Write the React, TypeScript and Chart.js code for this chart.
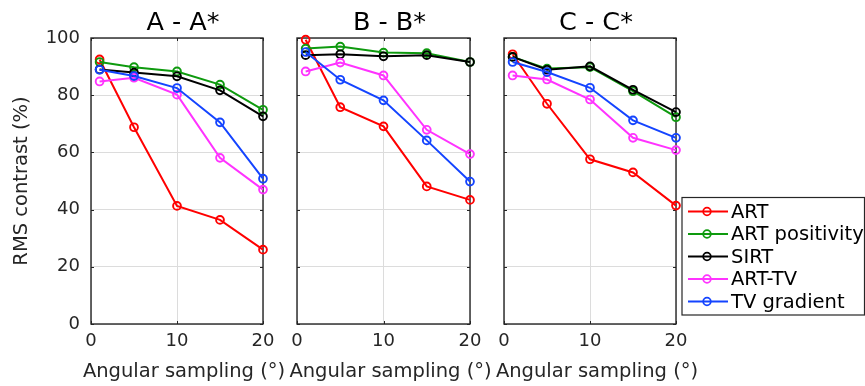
import React, { useEffect, useRef } from 'react';
import { Chart, registerables } from 'chart.js';

Chart.register(...registerables);

// ---------- data ----------
const angles = [1, 5, 10, 15, 20];
const seriesNames = ['ART', 'ART positivity', 'SIRT', 'ART-TV', 'TV gradient'];
const seriesColors = ['#ff0000', '#0e9a0e', '#000000', '#ff33ff', '#1444ff'];
const panelTitles = ['A - A*', 'B - B*', 'C - C*'];
const xTicks = [0, 10, 20];
const yTicks = [0, 20, 40, 60, 80, 100];
const xAxisLabel = 'Angular sampling (°)';
const yAxisLabel = 'RMS contrast (%)';

// Panel A - A*
const artA = [92.5, 68.8, 41.3, 36.4, 26.0];
const artPosA = [91.6, 89.8, 88.3, 83.7, 74.9];
const sirtA = [89.0, 87.9, 86.6, 81.7, 72.6];
const artTvA = [84.8, 86.1, 80.2, 58.1, 47.0];
const tvGradA = [88.9, 86.7, 82.5, 70.5, 50.8];

// Panel B - B*
const artB = [99.4, 75.8, 69.1, 48.1, 43.4];
const artPosB = [96.3, 97.0, 94.9, 94.7, 91.6];
const sirtB = [94.0, 94.3, 93.6, 94.0, 91.6];
const artTvB = [88.3, 91.4, 86.9, 67.9, 59.4];
const tvGradB = [95.1, 85.4, 78.2, 64.2, 49.8];

// Panel C - C*
const artC = [94.3, 77.0, 57.6, 53.0, 41.4];
const artPosC = [93.4, 89.3, 89.8, 81.4, 72.3];
const sirtC = [93.4, 88.9, 90.1, 81.9, 74.1];
const artTvC = [86.9, 85.5, 78.5, 65.1, 60.8];
const tvGradC = [91.6, 88.1, 82.6, 71.2, 65.1];

const panelSeries = [
  [artA, artPosA, sirtA, artTvA, tvGradA],
  [artB, artPosB, sirtB, artTvB, tvGradB],
  [artC, artPosC, sirtC, artTvC, tvGradC],
];

// ---------- layout / style ----------
const W = 865;
const H = 386;
const FONT = '"DejaVu Sans", sans-serif';
const TEXT = '#262626';
const GRID = '#dcdcdc';
const panelLeft = [91, 297, 504];
const panelRight = [263, 470, 676];
const plotTop = 38;
const yAxisWidth = 91;
const xAxisHeight = 62;
const textShift = 6;

const boxPlugin = {
  id: 'matlabBox',
  beforeDatasetsDraw(chart: any) {
    const { ctx, chartArea: a, scales } = chart;
    ctx.save();
    ctx.strokeStyle = TEXT;
    ctx.lineWidth = 1;
    const tl = 3;
    ctx.beginPath();
    for (const v of yTicks) {
      const y = Math.round(scales.y.getPixelForValue(v)) + 0.5;
      ctx.moveTo(a.left, y);
      ctx.lineTo(a.left + tl, y);
      ctx.moveTo(a.right, y);
      ctx.lineTo(a.right - tl, y);
    }
    for (const v of xTicks) {
      const x = Math.round(scales.x.getPixelForValue(v)) + 0.5;
      ctx.moveTo(x, a.bottom);
      ctx.lineTo(x, a.bottom - tl);
      ctx.moveTo(x, a.top);
      ctx.lineTo(x, a.top + tl);
    }
    ctx.stroke();
    ctx.lineWidth = 1.4;
    ctx.strokeRect(a.left, a.top, a.right - a.left, a.bottom - a.top);
    ctx.restore();
  },
  afterDraw(chart: any) {
    // panel title and x-axis title (wider than the panel, so drawn uncompressed)
    const { ctx, chartArea: a } = chart;
    const cx = (a.left + a.right) / 2 + textShift;
    ctx.save();
    ctx.textAlign = 'center';
    ctx.textBaseline = 'alphabetic';
    ctx.fillStyle = '#000000';
    ctx.font = `25.5px ${FONT}`;
    ctx.fillText(chart.options.plugins.panelTitle.text, cx, 29.5);
    ctx.fillStyle = TEXT;
    ctx.font = `19.5px ${FONT}`;
    ctx.fillText(xAxisLabel, cx + 1, 376.7);
    ctx.restore();
  },
};

const legendPlugin = {
  id: 'matlabLegend',
  afterDraw(chart: any) {
    const { ctx } = chart;
    const x0 = 682;
    const y0 = 197.5;
    const x1 = 864.5;
    const y1 = 315;
    ctx.save();
    ctx.fillStyle = '#ffffff';
    ctx.fillRect(x0, y0, x1 - x0, y1 - y0);
    ctx.strokeStyle = TEXT;
    ctx.lineWidth = 1.2;
    ctx.strokeRect(x0, y0, x1 - x0, y1 - y0);
    ctx.font = `19.5px ${FONT}`;
    ctx.textBaseline = 'middle';
    ctx.textAlign = 'left';
    chart.data.datasets.forEach((ds: any, i: number) => {
      const y = 211.5 + i * 22.5;
      ctx.strokeStyle = ds.borderColor;
      ctx.lineWidth = 2;
      ctx.beginPath();
      ctx.moveTo(688, y);
      ctx.lineTo(728, y);
      ctx.stroke();
      ctx.lineWidth = 1.8;
      ctx.beginPath();
      ctx.arc(707, y, 3.8, 0, Math.PI * 2);
      ctx.stroke();
      ctx.fillStyle = '#000000';
      ctx.fillText(ds.label, 731, y + 1);
    });
    ctx.restore();
  },
};

function makeConfig(i: number): any {
  const first = i === 0;
  return {
    type: 'line',
    data: {
      datasets: seriesNames.map((name, s) => ({
        label: name,
        data: angles.map((a, k) => ({ x: a, y: panelSeries[i][s][k] })),
        borderColor: seriesColors[s],
        backgroundColor: 'rgba(0,0,0,0)',
        pointBackgroundColor: 'rgba(0,0,0,0)',
        pointBorderColor: seriesColors[s],
        borderWidth: 2,
        pointRadius: 3.9,
        pointBorderWidth: 1.9,
        tension: 0,
        clip: false,
        order: seriesNames.length - s,
      })),
    },
    options: {
      responsive: false,
      animation: false,
      devicePixelRatio: 1,
      events: [],
      layout: {
        padding: {
          left: first ? 0 : panelLeft[i],
          right: W - panelRight[i],
          top: plotTop,
          bottom: 0,
        },
      },
      plugins: {
        legend: { display: false },
        tooltip: { enabled: false },
        title: { display: false },
        panelTitle: { text: panelTitles[i] },
      },
      scales: {
        x: {
          type: 'linear',
          min: 0,
          max: 20,
          afterBuildTicks: (s: any) => {
            s.ticks = xTicks.map((v) => ({ value: v }));
          },
          ticks: {
            color: TEXT,
            font: { family: FONT, size: 18, lineHeight: 1.2 },
            padding: 7,
            maxRotation: 0,
            autoSkip: false,
          },
          grid: { color: GRID, lineWidth: 1, drawTicks: false },
          border: { display: false },
          title: { display: false },
          afterFit: (s: any) => {
            s.height = xAxisHeight;
          },
        },
        y: {
          type: 'linear',
          min: 0,
          max: 100,
          afterBuildTicks: (s: any) => {
            s.ticks = yTicks.map((v) => ({ value: v }));
          },
          ticks: {
            display: first,
            color: TEXT,
            font: { family: FONT, size: 18, lineHeight: 1.2 },
            padding: 11,
          },
          grid: { color: GRID, lineWidth: 1, drawTicks: false },
          border: { display: false },
          title: {
            display: first,
            text: yAxisLabel,
            color: TEXT,
            font: { family: FONT, size: 19.5, lineHeight: 1.2 },
            padding: { top: 10, bottom: 0 },
          },
          afterFit: (s: any) => {
            s.width = first ? yAxisWidth : 0;
          },
        },
      },
    },
    plugins: i === 2 ? [boxPlugin, legendPlugin] : [boxPlugin],
  };
}

export default function App() {
  const r0 = useRef<HTMLCanvasElement>(null);
  const r1 = useRef<HTMLCanvasElement>(null);
  const r2 = useRef<HTMLCanvasElement>(null);

  useEffect(() => {
    const refs = [r0, r1, r2];
    const charts = refs.map((r, i) => new Chart(r.current as HTMLCanvasElement, makeConfig(i)));
    return () => charts.forEach((c) => c.destroy());
  }, []);

  const canvasStyle: React.CSSProperties = {
    position: 'absolute',
    left: 0,
    top: 0,
    width: W,
    height: H,
  };

  return (
    <div
      style={{
        position: 'absolute',
        left: 0,
        top: 0,
        width: W,
        height: H,
        background: '#ffffff',
        overflow: 'hidden',
      }}
    >
      <canvas ref={r0} width={W} height={H} style={canvasStyle} />
      <canvas ref={r1} width={W} height={H} style={canvasStyle} />
      <canvas ref={r2} width={W} height={H} style={canvasStyle} />
    </div>
  );
}
